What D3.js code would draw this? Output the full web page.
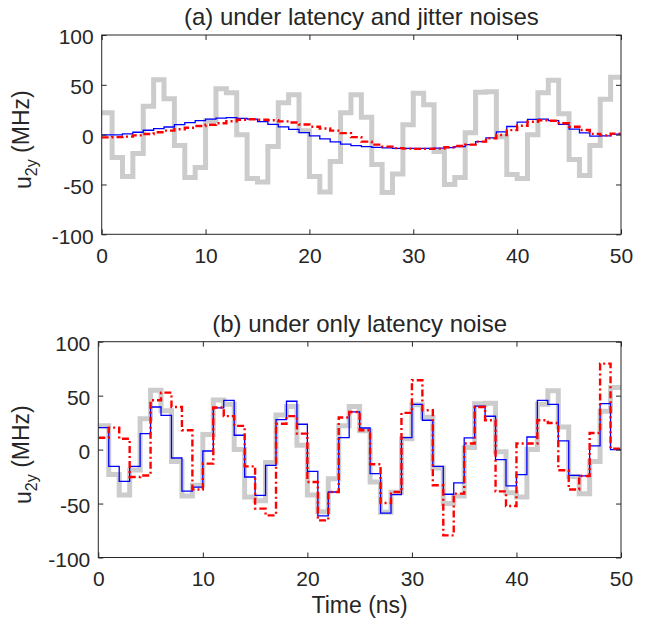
<!DOCTYPE html>
<html><head><meta charset="utf-8">
<script src="https://cdn.jsdelivr.net/npm/d3@7"></script>
<style>
body{margin:0;background:#fff}
svg{display:block}
text{font-family:"Liberation Sans",Arial,Helvetica,sans-serif;fill:#262626}
</style>
</head><body>
<svg id="chart" width="647" height="622"></svg>
<script>
// ---------- data ----------
const timeNs = [0,1,2,3,4,5,6,7,8,9,10,11,12,13,14,15,16,17,18,19,20,21,22,23,24,25,26,27,28,29,30,31,32,33,34,35,36,37,38,39,40,41,42,43,44,45,46,47,48,49];
const endTime = 50;
const referenceSignal = [22,-23,-42,-19,28.5,55,36,-11,-43,-33,14,46,42,0,-44,-47.5,-12,32,40,4,-42,-57.5,-27,22,40,17.5,-30,-58,-39.5,10,41.5,30,-17,-50,-43,2,42.5,43,-2,-40,-44,0,42,54.5,21,-25,-41,-11,35.5,57.5];
const blueJitter = [-0.3,-0.3,0.7,2.4,4.4,6,7.7,10,12,14,15.5,16.5,17,16.3,15.5,13,10.4,7.8,5.2,2,-1.3,-4.3,-7.3,-9.6,-11,-12,-12.7,-13.3,-13.7,-13.7,-13.7,-13.7,-13.5,-13,-12,-10,-7,-3.2,2.8,8.2,12.5,15.3,15.6,14,10.4,5.5,1.7,-1.5,-1.3,0.5];
const redJitter = [-2.7,-2.5,-2,-0.7,0.7,2.4,4,5.4,7,8.7,10,11.5,13.5,15,15.4,15,14.5,13.3,12.2,10.2,8,6.2,4,1.5,-2.5,-7,-10,-12,-13.5,-14,-14.3,-14.3,-14,-12.7,-11.4,-10,-7,-3.6,-0.3,4.5,9,13,14.5,14,11.4,8,4.7,0.8,-0.7,1];
const blueLatency = [20.4,-15.5,-29.4,-15.5,14.8,39.5,31.8,-7.8,-38.4,-34.7,-1.3,38.6,45.7,13.3,-25.4,-42.4,-14.6,27.8,44.8,23.5,-20.1,-61.5,-39.3,11.1,34.9,20,-22.3,-58.8,-41.7,11.1,42,27.2,-15.5,-41.4,-30.9,10.8,40.2,30.9,-9.3,-33.7,-23.2,11.7,45.7,42,8,-23.8,-24.4,3.4,42.6,0];
const redLatency = [11,20.4,10,-25.4,-24,45.7,52.8,39.5,18,-37,-13,39,31,22,-15.5,-54.7,-61,24,31,14.8,-30,-65.6,-39.3,29.7,34.9,18,-13.6,-49.5,-39.3,34,64.3,36.4,-33,-79.5,-40.8,5.6,39.5,27.2,-38.7,-52.3,5.6,5.6,27.2,24.7,-19.2,-37,-24.4,15.4,79.7,0.9];
const xTicks = [0,10,20,30,40,50];
const yTicks = [-100,-50,0,50,100];
const xDomain = [0,50];
const yDomain = [-100,100];
const panelTitles = ["(a) under latency and jitter noises","(b) under only latency noise"];
const yLabelMain = "u";
const yLabelSub = "2y";
const yLabelUnit = " (MHz)";
const xLabel = "Time (ns)";

// ---------- layout ----------
const svg = d3.select("#chart");
const FONT = '"Liberation Sans",Arial,Helvetica,sans-serif';
const AXC = "#262626";
const panels = [
  {left:101.7,right:621,top:35,bottom:234.3,title:panelTitles[0],titleY:25,blue:blueJitter,red:redJitter,xlab:false},
  {left:98.3,right:621,top:341.7,bottom:557.5,title:panelTitles[1],titleY:332,blue:blueLatency,red:redLatency,xlab:true}
];

function pts(vals){
  const a = timeNs.map((t,i)=>[t, vals[i]]);
  a.push([endTime, vals[vals.length-1]]);
  return a;
}

panels.forEach((p,pi)=>{
  const g = svg.append("g");
  const x = d3.scaleLinear().domain(xDomain).range([p.left,p.right]);
  const y = d3.scaleLinear().domain(yDomain).range([p.bottom,p.top]);
  const clipId = "clip"+pi;
  g.append("clipPath").attr("id",clipId).append("rect")
    .attr("x",p.left).attr("y",p.top).attr("width",p.right-p.left).attr("height",p.bottom-p.top);
  const line = d3.line().x(d=>x(d[0])).y(d=>y(d[1])).curve(d3.curveStepAfter);
  const plot = g.append("g").attr("clip-path",`url(#${clipId})`);
  plot.append("path").attr("d",line(pts(referenceSignal)))
    .attr("fill","none").attr("stroke","#cccccc").attr("stroke-width",5);
  plot.append("path").attr("d",line(pts(p.blue)))
    .attr("fill","none").attr("stroke","#0000ff").attr("stroke-width",1.3);
  plot.append("path").attr("d",line(pts(p.red)))
    .attr("fill","none").attr("stroke","#ff0000").attr("stroke-width",2.4)
    .attr("stroke-dasharray","7,3,2,3");

  // box
  g.append("rect").attr("x",p.left).attr("y",p.top)
    .attr("width",p.right-p.left).attr("height",p.bottom-p.top)
    .attr("fill","none").attr("stroke",AXC).attr("stroke-width",1);

  const styleAxis = sel=>{
    sel.select(".domain").remove();
    sel.selectAll(".tick line").attr("stroke",AXC);
    sel.selectAll("text").style("font-family",FONT).style("font-size","21px").style("fill",AXC);
  };
  g.append("g").attr("transform",`translate(0,${p.bottom})`)
    .call(d3.axisBottom(x).tickValues(xTicks).tickSizeInner(-5).tickSizeOuter(0).tickPadding(14).tickFormat(d=>String(d)))
    .call(styleAxis);
  g.append("g").attr("transform",`translate(0,${p.top})`)
    .call(d3.axisTop(x).tickValues(xTicks).tickSizeInner(-5).tickSizeOuter(0).tickFormat(""))
    .call(styleAxis);
  g.append("g").attr("transform",`translate(${p.left},0)`)
    .call(d3.axisLeft(y).tickValues(yTicks).tickSizeInner(-5).tickSizeOuter(0).tickPadding(8).tickFormat(d=>String(d)))
    .call(styleAxis)
    .selectAll("text").attr("dy","0.42em");
  g.append("g").attr("transform",`translate(${p.right},0)`)
    .call(d3.axisRight(y).tickValues(yTicks).tickSizeInner(-5).tickSizeOuter(0).tickFormat(""))
    .call(styleAxis);

  // title
  g.append("text").attr("x",(p.left+p.right)/2).attr("y",p.titleY)
    .attr("text-anchor","middle").style("font-size","24px").text(p.title);

  // y label
  const cy = (p.top+p.bottom)/2 + 5;
  const yl = g.append("text").attr("transform",`translate(31,${cy}) rotate(-90)`)
    .attr("text-anchor","middle").style("font-size","23px");
  yl.append("tspan").text(yLabelMain);
  yl.append("tspan").attr("dy","0.35em").style("font-size","16px").text(yLabelSub);
  yl.append("tspan").attr("dy","-0.35em").text(yLabelUnit);

  if(p.xlab){
    g.append("text").attr("x",(p.left+p.right)/2).attr("y",613)
      .attr("text-anchor","middle").style("font-size","23px").text(xLabel);
  }
});
</script>
</body></html>
